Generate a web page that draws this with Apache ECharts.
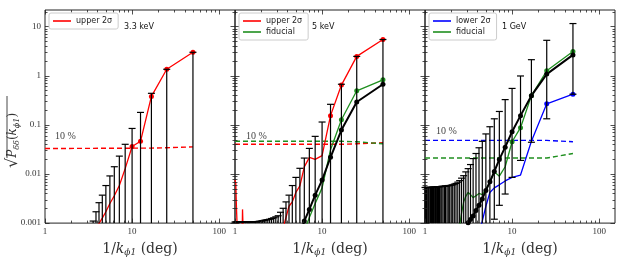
<!DOCTYPE html>
<html><head><meta charset="utf-8">
<script src="https://cdn.jsdelivr.net/npm/echarts@6/dist/echarts.min.js"></script>
<style>html,body{margin:0;padding:0;background:#fff}#c{width:619px;height:262px}</style>
</head><body><div id="c"></div>
<script>
// x positions of the bins, 1/k (deg)
const xPos = [50,25,16.67,12.5,10,8.33,7.14,6.25,5.56,5,4.55,4.17,3.85,3.57,3.33,3.13,2.94,2.78,2.63,2.5,
  2.38,2.27,2.17,2.08,2,1.92,1.85,1.79,1.72,1.67,1.61,1.56,1.52,1.47,1.43,1.39,1.35,1.32,1.28,1.25,
  1.22,1.19,1.16,1.14,1.11,1.09,1.06,1.04,1.02,1];
const NONE = 0.0001; // below the plotted range

// ---- panel 1 : 3.3 keV
const p1BarHigh = [2.97,1.34,0.435,0.178,0.084,0.04,0.023,0.014,0.0091,0.0058,0.0037,0.0026,0.0017,0.0011];
const p1Red = [2.97,1.34,0.376,0.046,0.036,0.0128,0.0058,0.0036,0.0025,0.0017,0.00126,0.00098,0.0007];
const p1RedMarks = 5;
const dashX = [1,16.67,25,50];
const p1RedDash = [0.0328,0.0335,0.034,0.0355];

// ---- panel 2 : 5 keV
const p2BarHigh = [5.4,2.45,0.665,0.26,0.1135,0.058,0.033,0.021,0.013,0.0085,0.0058,0.0037,0.0027,0.002,0.00166,
  0.00141,0.00134,0.00128,0.00124,0.0012,0.00118,0.00116,0.00114,0.00112,0.0011,0.00109,0.00108,0.00107,0.00107,0.00106,
  0.00106,0.00106,0.00105,0.00105,0.00105,0.00105,0.00105,0.00105,0.00105,0.00105,0.00105,0.00105,0.00105,0.00105,0.00105,
  0.00105,0.00105,0.00105,0.00105,0.00105];
const p2Red = [5.4,2.45,0.64,0.153,0.0235,0.0197,0.0217,0.0139,0.0057,0.0042,0.0027,0.0022,0.0013,0.0008,NONE,
  NONE,NONE,NONE,NONE,NONE,NONE,NONE,NONE,NONE,NONE,NONE,NONE,NONE,NONE,NONE,
  NONE,NONE,NONE,NONE,NONE,NONE,NONE,NONE,NONE,NONE,0.0019,NONE,NONE,NONE,NONE,
  NONE,0.0008,0.002,0.0065,0.0076];
const p2RedMarks = 4;
const p2Green = [0.82,0.49,0.126,0.031,0.0052,0.0025,0.0013,0.0007,NONE];
const p2GreenMarks = 3;
const p2Black = [0.665,0.29,0.078,0.0218,0.0075,0.0037,0.0019,0.0011,0.0006];
const p2BlackMarks = 8;
const p2RedDash = [0.040,0.040,0.041,0.043];
const p2GreenDash = [0.046,0.046,0.045,0.041];

// ---- panel 3 : 1 GeV
const p3BarHigh = [11.4,5.2,2.1,0.98,0.547,0.324,0.186,0.132,0.091,0.065,0.046,0.034,0.026,0.0205,0.0155,
  0.0128,0.011,0.0092,0.0082,0.0073,0.0068,0.0064,0.0062,0.006,0.0059,0.0058,0.0058,0.0057,0.0057,0.0056,
  0.0056,0.0056,0.0055,0.0055,0.0055,0.0055,0.0054,0.0054,0.0054,0.0054,0.0054,0.0053,0.0053,0.0053,0.0053,
  0.0053,0.0053,0.0053,0.0053,0.0053];
const p3BarLow = [0.417,0.132,0.044,0.0188,0.0085,0.0039,0.0023,0.0012];
const p3Black = [2.63,1.07,0.39,0.153,0.072,0.035,0.0197,0.0112,0.0069,0.0046,0.0031,0.0023,0.0018,0.0014,0.00118,0.00102,0.0009,0.0007];
const p3BlackMarks = 16;
const p3Green = [3.07,1.25,0.39,0.087,0.045,0.014,0.009,0.011,0.0068,0.0048,0.0038,0.004,0.0036,0.0033,0.0038,0.0042,0.0035,0.0027,0.0016,0.0009,0.0005];
const p3GreenMarks = 5;
const p3Blue = [0.417,0.266,0.046,0.0095,0.0085,0.0072,0.006,0.0052,0.0042,0.0022,0.0011,0.0006];
const p3BlueMarks = 2;
const p3BlueDash = [0.048,0.048,0.048,0.045];
const p3GreenDash = [0.021,0.021,0.021,0.026];

// ---- axes
const X_MIN = 1, X_MAX = 152, Y_MIN = 0.001, Y_MAX = 21.5;
const titles = ['3.3 keV','5 keV','1 GeV'];

const RED = '#ff0000', GREEN = '#1f8f1f', BLUE = '#0000ff', BLACK = '#000000';
const gridLeft = [45,235,425];
const GW = 190, GTOP = 10, GH = 222;

function pairs(xs, ys){ return ys.map((y,i)=>[xs[i], y]); }
function marked(ys, nMarks){
  return ys.map((y,i)=>({value:[xPos[i], y], symbol: i < nMarks ? 'circle' : 'none'}));
}
function fmtPow(v){
  const e = Math.round(Math.log10(v));
  if (Math.abs(Math.log10(v) - e) > 1e-4) return '';
  if (e < 0) return '0.' + '0'.repeat(-e-1) + '1';
  return '1' + '0'.repeat(e);
}

// tick list (major & minor) for the frame
const frameTicks = [];
for (let d = 0; d <= 2; d++) for (let m = 1; m <= 9; m++) {
  const v = m * Math.pow(10, d); if (v <= X_MAX) frameTicks.push([v, Y_MIN, 0, m === 1 ? 1 : 0]);
}
for (let d = -3; d <= 1; d++) for (let m = 1; m <= 9; m++) {
  const v = m * Math.pow(10, d); if (v <= Y_MAX) frameTicks.push([X_MIN, v, 1, m === 1 ? 1 : 0]);
}

function frameRender(params, api){
  const cs = params.coordSys;
  const kind = api.value(2), major = api.value(3);
  const len = major ? 4.5 : 2.5;
  const p = api.coord([api.value(0), api.value(1)]);
  const st = {stroke:'#222', lineWidth:0.8};
  const ch = [];
  if (kind === 0) {
    const x = Math.round(p[0]) + 0.5, b = cs.y + cs.height, t = cs.y;
    ch.push({type:'line', shape:{x1:x,y1:b,x2:x,y2:b-len}, style:st});
    ch.push({type:'line', shape:{x1:x,y1:t,x2:x,y2:t+len}, style:st});
  } else {
    const y = Math.round(p[1]) + 0.5, l = cs.x, r = cs.x + cs.width;
    ch.push({type:'line', shape:{x1:l,y1:y,x2:l+len,y2:y}, style:st});
    ch.push({type:'line', shape:{x1:r,y1:y,x2:r-len,y2:y}, style:st});
  }
  return {type:'group', children:ch};
}

function ebRender(params, api){
  const cs = params.coordSys;
  const x = api.value(0), lo = api.value(1), hi = api.value(2);
  const bottom = cs.y + cs.height;
  const px = api.coord([x, hi])[0];
  let yHi = api.coord([x, hi])[1];
  let yLo = lo >= Y_MIN ? api.coord([x, lo])[1] : bottom;
  const loCap = lo >= Y_MIN;
  if (yHi > bottom) return null;
  yHi = Math.max(yHi, cs.y);
  const st = {stroke:'#000', lineWidth:1.2};
  const ch = [{type:'line', shape:{x1:px,y1:yLo,x2:px,y2:yHi}, style:st}];
  const cw = 3.5;
  ch.push({type:'line', shape:{x1:px-cw,y1:yHi,x2:px+cw,y2:yHi}, style:st});
  if (loCap) ch.push({type:'line', shape:{x1:px-cw,y1:yLo,x2:px+cw,y2:yLo}, style:st});
  return {type:'group', children:ch};
}

function ebData(high, low){
  return high.map((h,i)=>[xPos[i], (low && low[i] !== undefined) ? low[i] : NONE, h]);
}

function lineSeries(name, gi, data, color, width, z){
  return {name, type:'line', xAxisIndex:gi, yAxisIndex:gi, data, showAllSymbol:true,
    symbolSize:5, lineStyle:{color, width}, itemStyle:{color}, color, z:z||3, animation:false,
    emphasis:{disabled:true}, silent:true};
}
function dashSeries(name, gi, ys, color){
  return {name, type:'line', xAxisIndex:gi, yAxisIndex:gi, data:pairs(dashX, ys), symbol:'none',
    lineStyle:{color, width:1.4, type:[5,3]}, color, z:2, animation:false, silent:true};
}

const grids = gridLeft.map(l=>({left:l, top:GTOP, width:GW, height:GH, show:true,
  borderColor:'#222', borderWidth:1, backgroundColor:'transparent'}));

const xAxes = gridLeft.map((l,i)=>({type:'log', logBase:10, gridIndex:i, min:X_MIN, max:X_MAX,
  axisLine:{show:false}, axisTick:{show:false}, splitLine:{show:false},
  axisLabel:{formatter:fmtPow, fontFamily:'Liberation Serif', fontSize:9, color:'#333', margin:4,
    showMaxLabel:false, hideOverlap:false},
  name:'{n|1/}{i|k}{s|ϕ1}{n| (deg)}', nameLocation:'middle', nameGap:17,
  nameTextStyle:{rich:{
    n:{fontFamily:'DejaVu Serif', fontSize:14, color:'#333', lineHeight:16},
    i:{fontFamily:'DejaVu Serif', fontStyle:'italic', fontSize:14, color:'#333', lineHeight:16},
    s:{fontFamily:'DejaVu Serif', fontStyle:'italic', fontSize:9, color:'#333', lineHeight:9, verticalAlign:'bottom', padding:[7,0,0,0]}
  }}
}));
const yAxes = gridLeft.map((l,i)=>({type:'log', logBase:10, gridIndex:i, min:Y_MIN, max:Y_MAX,
  axisLine:{show:false}, axisTick:{show:false}, splitLine:{show:false},
  axisLabel:{show:i===0, formatter:fmtPow, fontFamily:'Liberation Serif', fontSize:9, color:'#333', margin:4,
    showMaxLabel:false, hideOverlap:false}
}));

const series = [];
for (let g = 0; g < 3; g++) {
  series.push({type:'custom', name:'frame'+g, xAxisIndex:g, yAxisIndex:g, data:frameTicks,
    renderItem:frameRender, clip:false, z:10, silent:true, animation:false});
}
// panel 1
series.push(dashSeries('d1r', 0, p1RedDash, RED));
series.push(lineSeries('upper 2σ', 0, marked(p1Red, p1RedMarks), RED, 1.3));
series.push({type:'custom', name:'eb1', xAxisIndex:0, yAxisIndex:0, data:ebData(p1BarHigh), renderItem:ebRender, z:4, silent:true, animation:false});
// panel 2
series.push(dashSeries('d2r', 1, p2RedDash, RED));
series.push(dashSeries('d2g', 1, p2GreenDash, GREEN));
series.push(lineSeries('upper 2σ', 1, marked(p2Red, p2RedMarks), RED, 1.3));
series.push(lineSeries('fiducial', 1, marked(p2Green, p2GreenMarks), GREEN, 1.3));
series.push(lineSeries('b2', 1, marked(p2Black, p2BlackMarks), BLACK, 2));
series.push({type:'custom', name:'eb2', xAxisIndex:1, yAxisIndex:1, data:ebData(p2BarHigh), renderItem:ebRender, z:4, silent:true, animation:false});
// panel 3
series.push(dashSeries('d3b', 2, p3BlueDash, BLUE));
series.push(dashSeries('d3g', 2, p3GreenDash, GREEN));
series.push(lineSeries('lower 2σ', 2, marked(p3Blue, p3BlueMarks), BLUE, 1.3));
series.push(lineSeries('fiducial', 2, marked(p3Green, p3GreenMarks), GREEN, 1.3));
series.push(lineSeries('b3', 2, marked(p3Black, p3BlackMarks), BLACK, 2));
series.push({type:'custom', name:'eb3', xAxisIndex:2, yAxisIndex:2, data:ebData(p3BarHigh, p3BarLow), renderItem:ebRender, z:4, silent:true, animation:false});

const legendBase = {orient:'vertical', icon:'rect', itemWidth:18, itemHeight:1.6, itemGap:3,
  textStyle:{fontFamily:'DejaVu Sans', fontSize:8, color:'#222'}, borderColor:'#ccc', borderWidth:1,
  borderRadius:2, padding:[4,6,4,4], backgroundColor:'#fff', selectedMode:false, z:20};
const legends = [
  Object.assign({}, legendBase, {left:49, top:13, data:['upper 2σ']}),
  Object.assign({}, legendBase, {left:239, top:13, data:['upper 2σ','fiducial']}),
  Object.assign({}, legendBase, {left:429, top:13, data:['lower 2σ','fiducial']})
];

const titleX = [124, 312, 502];
const pctPos = [[55,131],[246,131],[436,126]];
const graphic = [];
titles.forEach((t,i)=>graphic.push({type:'text', left:titleX[i], top:23,
  style:{text:t, font:'8px "DejaVu Sans"', fill:'#111'}, z:30}));
pctPos.forEach(p=>graphic.push({type:'text', x:p[0], y:p[1],
  style:{text:'10 %', font:'10px "Liberation Serif"', fill:'#444'}, z:30}));
graphic.push({type:'group', x:5, y:168, rotation:Math.PI/2, z:30, children:[
  {type:'text', x:0, y:0, style:{rich:{
      r:{fontFamily:'DejaVu Serif', fontSize:16, fill:'#333'},
      i:{fontFamily:'DejaVu Serif', fontStyle:'italic', fontSize:12, fill:'#333'},
      n:{fontFamily:'DejaVu Serif', fontSize:12, fill:'#333'},
      s:{fontFamily:'DejaVu Serif', fontStyle:'italic', fontSize:8, fill:'#333', verticalAlign:'bottom', padding:[7,0,0,0]}
    }, text:'{r|√}{i|P}{s|δδ}{n|(}{i|k}{s|ϕ1}{n|)}'}},
  {type:'line', shape:{x1:10, y1:2, x2:72, y2:2}, style:{stroke:'#333', lineWidth:0.9}}
]});

const chart = echarts.init(document.getElementById('c'), null, {renderer:'canvas'});
chart.setOption({animation:false, grid:grids, xAxis:xAxes, yAxis:yAxes, series, legend:legends, graphic});
</script></body></html>
